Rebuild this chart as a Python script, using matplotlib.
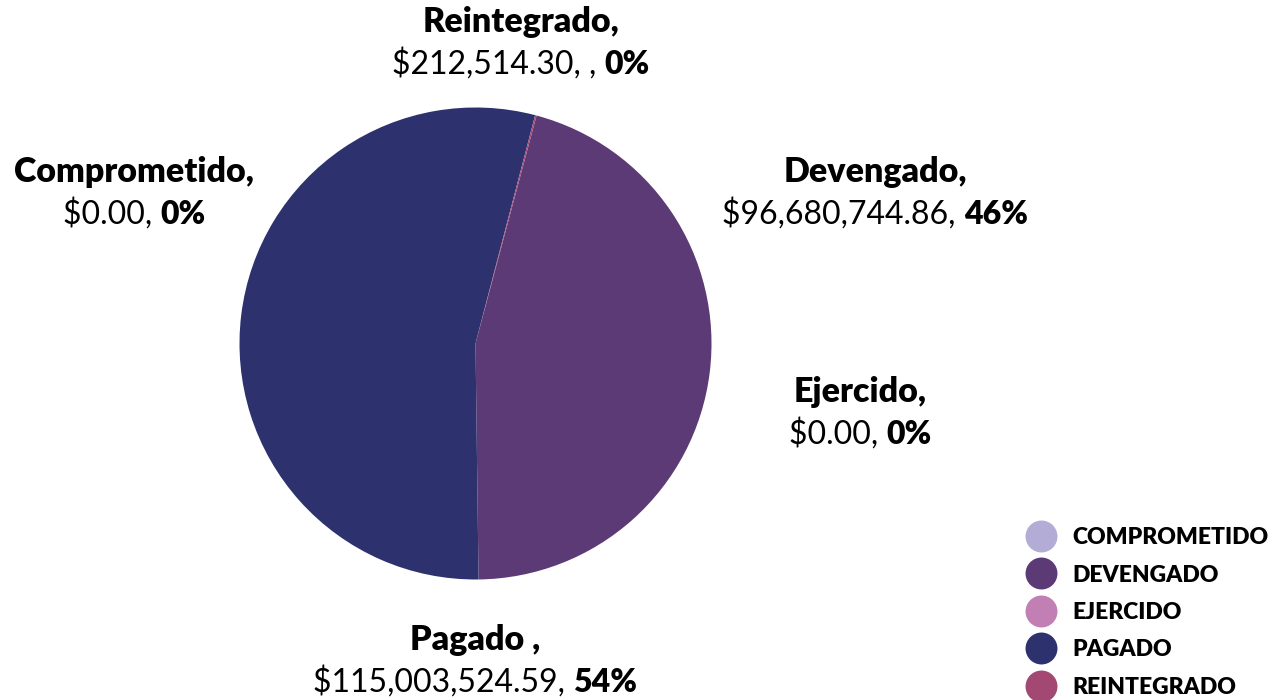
import matplotlib
matplotlib.use("Agg")
import matplotlib.pyplot as plt
from matplotlib.lines import Line2D

# ---- data ----
categories = ["Comprometido", "Devengado", "Ejercido", "Pagado", "Reintegrado"]
values = [0.00, 96680744.86, 0.00, 115003524.59, 212514.30]
value_labels = ["$0.00, ", "$96,680,744.86, ", "$0.00, ", "$115,003,524.59, ", "$212,514.30, , "]
pct_labels = ["0%", "46%", "0%", "54%", "0%"]
title_labels = ["Comprometido,", "Devengado,", "Ejercido,", "Pagado ,", "Reintegrado,"]
legend_labels = ["COMPROMETIDO", "DEVENGADO", "EJERCIDO", "PAGADO", "REINTEGRADO"]
colors = ["#b3acd6", "#5c3a76", "#c17fb4", "#2d316e", "#a34873"]

# label anchor positions (pixels, top-left origin)
label_pos = [(134, 172), (875, 172), (860, 392), (475, 640), (521, 22)]

W, H = 1280, 700
plt.rcParams['font.family'] = ['Lato', 'DejaVu Sans']
fig = plt.figure(figsize=(W / 100, H / 100), dpi=100)
fig.patch.set_facecolor("white")

cx, cy, r = 475.5, 343.5, 236
ax = fig.add_axes([(cx - r) / W, (H - cy - r) / H, 2 * r / W, 2 * r / H])
ax.pie(values, colors=colors, startangle=90 - 15.0, counterclock=False,
       wedgeprops=dict(linewidth=0))
ax.set_xlim(-1, 1)
ax.set_ylim(-1, 1)
ax.set_aspect("equal")
ax.axis("off")

fs_title = 24.5
fs_val = 23
renderer = fig.canvas.get_renderer()
for (x, y), t, v, p in zip(label_pos, title_labels, value_labels, pct_labels):
    fig.text(x / W, 1 - y / H, t, ha="center", va="center", fontsize=fs_title,
             fontweight="heavy", color="black")
    y2 = y + 42
    t1 = fig.text(0, 0, v, fontsize=fs_val, color="black", va="center")
    t2 = fig.text(0, 0, p, fontsize=fs_val, color="black", fontweight="heavy", va="center")
    w1 = t1.get_window_extent(renderer).width
    w2 = t2.get_window_extent(renderer).width
    x0 = x - (w1 + w2) / 2
    t1.set_position((x0 / W, 1 - y2 / H))
    t2.set_position(((x0 + w1) / W, 1 - y2 / H))

handles = [Line2D([], [], linestyle="none", marker="o", markersize=23,
                  markerfacecolor=c, markeredgewidth=0) for c in colors]
leg = fig.legend(handles, legend_labels, loc="upper left",
                 bbox_to_anchor=(1028 / W, 1 - 527 / H), frameon=False,
                 prop=dict(size=16.5, weight="heavy"), labelspacing=0.72,
                 handlelength=1.1, handletextpad=0.85, borderpad=0, borderaxespad=0)

fig.savefig("out.png", dpi=100, facecolor="white")
